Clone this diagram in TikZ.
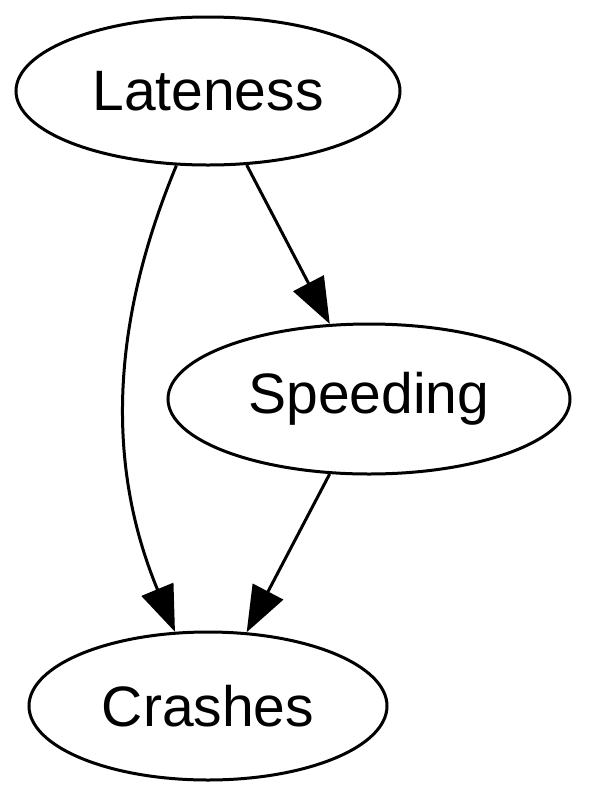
\documentclass[tikz,border=0pt]{standalone}
\usepackage{fontspec}
\setmainfont{Liberation Sans}
\usetikzlibrary{arrows.meta,shapes.geometric}
\tikzstyle{var} = [ellipse, draw=black, line width=1.5pt, inner sep=0pt, font=\fontsize{28.5}{30}\selectfont]
\tikzstyle{arrow} = [-{Triangle[length=23pt, width=17pt]}, line width=1.5pt]

\begin{document}
\begin{tikzpicture}[x=0.5pt, y=-0.5pt]
\useasboundingbox (0,0) rectangle (589,800);
\node[var, minimum width=192pt, minimum height=74pt] (late) at (208,91) {Lateness};
\node[var, minimum width=201pt, minimum height=75pt] (speed) at (369,399) {Speeding};
\node[var, minimum width=179pt, minimum height=74pt] (crash) at (208,706) {Crashes};

\draw[arrow] (late) -- (speed);
\draw[arrow] (speed) -- (crash);
\draw[arrow] (late.247) .. controls (108,330) and (108,470) .. (crash.114);
\end{tikzpicture}
\end{document}
